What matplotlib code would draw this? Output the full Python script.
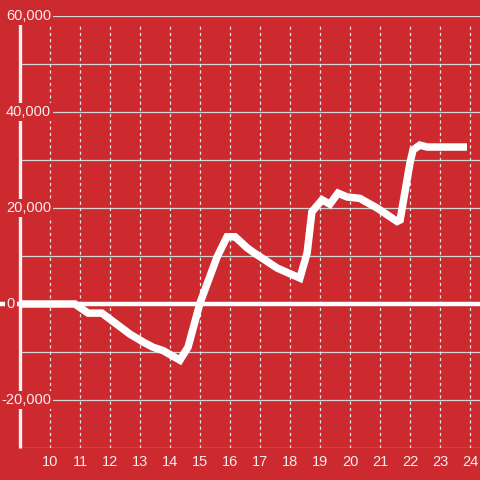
import matplotlib.pyplot as plt
import matplotlib.transforms as mtransforms

hours = [9.0, 10.83, 11.27, 11.73, 12.67, 13.1, 13.43, 13.77, 14.33, 14.6, 15.0, 15.57,
         15.9, 16.17, 16.57, 16.77, 17.57, 18.33, 18.57, 18.73, 19.07, 19.33, 19.6, 19.9,
         20.33, 20.9, 21.07, 21.57, 21.67, 22.0, 22.1, 22.33, 22.57, 23.9]
values = [0, 0, -1900, -1900, -6300, -7900, -9000, -9700, -11700, -9000, 200, 9800,
          14000, 14000, 11700, 10800, 7500, 5400, 10600, 19200, 21700, 20800, 23100, 22300,
          22000, 20000, 19300, 17200, 17500, 29400, 32100, 33100, 32700, 32700]
xticks = list(range(10, 25))
yticks = [60000, 40000, 20000, 0, -20000]

bg = "#cc2a2f"
txt = "#f7eeee"

fig = plt.figure(figsize=(4.8, 4.8), dpi=100, facecolor=bg)
ax = fig.add_axes([20 / 480, 32 / 480, 460 / 480, 432 / 480])
ax.set_facecolor(bg)
ax.set_xlim(9, 9 + 460 / 30)
ax.set_ylim(-30000, 60000)
for s in ax.spines.values():
    s.set_visible(False)
ax.set_yticks([])
ax.set_xticks(xticks)
ax.set_xticklabels([str(t) for t in xticks], color=txt, fontsize=10.5, family="Liberation Sans")
ax.tick_params(axis="x", length=0, pad=5)

# horizontal grid
for v in range(-30000, 60001, 10000):
    if v == 0:
        continue
    ax.axhline(v, color="#d4d4d4", lw=0.9, zorder=1)
# vertical dotted grid
ax.vlines(xticks, -30000, 58300, colors="#e8e8e8", lw=0.9, linestyles=(0, (2.5, 2.5)), zorder=1)
# y axis line
ax.plot([9, 9], [-30000, 58300], color="#f2f2f2", lw=2.4, zorder=2, clip_on=False, solid_capstyle="butt")
# zero line
ax.plot([8.3, 9 + 460 / 30], [0, 0], color="white", lw=3.2, zorder=2, clip_on=False, solid_capstyle="butt")

# y labels with background boxes
trans = mtransforms.blended_transform_factory(fig.transFigure, ax.transData)
for v in yticks:
    right = 15 if v == 0 else 51
    ax.text(right / 480, v, f"{v:,}", transform=trans, ha="right", va="center", color=txt,
            fontsize=10.5, family="Liberation Sans", zorder=4,
            bbox=dict(facecolor=bg, edgecolor="none", pad=1.5))

ax.plot(hours, values, color="white", lw=5.4, zorder=5, solid_capstyle="butt", solid_joinstyle="miter")

fig.savefig("out.png", dpi=100, facecolor=bg)
